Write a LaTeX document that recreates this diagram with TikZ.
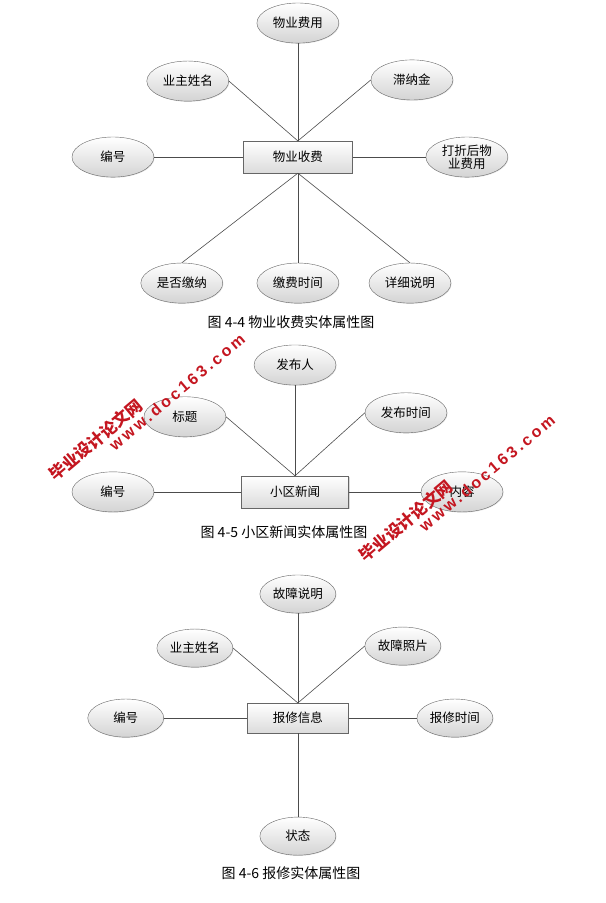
\documentclass[tikz,border=0pt]{standalone}
\usepackage{fontspec}
\setmainfont{Noto Sans CJK SC}
\newfontfamily\wwwfont[LetterSpace=18]{Liberation Sans}
\usetikzlibrary{positioning,shapes.geometric,shadows}

\definecolor{wmred}{RGB}{196,22,32}
\tikzset{
  attr/.style={ellipse, draw=black!60, top color=white, bottom color=black!17,
    minimum width=2.88cm, minimum height=1.41cm, inner sep=0pt, align=center,
    on grid, font=\fontsize{12.5}{13.5}\selectfont,
    drop shadow={opacity=0.2, shadow xshift=0.7pt, shadow yshift=-0.7pt}},
  smallattr/.style={attr, minimum width=2.67cm, minimum height=1.34cm},
  entity/.style={rectangle, draw=black!60, top color=white, bottom color=black!14,
    minimum width=3.83cm, minimum height=1.12cm, inner sep=0pt,
    font=\fontsize{12.5}{13.5}\selectfont,
    drop shadow={opacity=0.3, shadow xshift=1pt, shadow yshift=-1pt}},
  conn/.style={draw=black!70, line width=0.6pt},
  caption/.style={font=\fontsize{14}{15}\selectfont},
  wmzh/.style={text=wmred, rotate=40, font=\fontsize{16.5}{17}\selectfont\bfseries},
  wmen/.style={text=wmred, rotate=40, font=\fontsize{16}{17}\wwwfont\bfseries},
}

\begin{document}
\begin{tikzpicture}
  \useasboundingbox (0,0) rectangle (21.30,-31.74);

  % 物业收费
  \node[entity] (e1) at (10.47,-5.52) {物业收费};
  \node[attr, above=4.71cm of e1] (a1) {物业费用};
  \node[attr, above left=2.67cm and 3.87cm of e1] (a2) {业主姓名};
  \node[attr, above right=2.71cm and 4.01cm of e1] (a3) {滞纳金};
  \node[attr, left=6.50cm of e1] (a4) {编号};
  \node[attr, right=5.94cm of e1] (a5) {打折后物\\业费用};
  \node[attr, below left=4.43cm and 4.08cm of e1] (a6) {是否缴纳};
  \node[attr, below=4.43cm of e1] (a7) {缴费时间};
  \node[attr, below right=4.43cm and 3.94cm of e1] (a8) {详细说明};
  \node[caption] (t1) at (10.23,-11.32) {图 4-4 物业收费实体属性图};
  \draw[conn] (e1.north) -- (a1.south);
  \draw[conn] (e1.north) -- (a2.east);
  \draw[conn] (e1.north) -- (a3.west);
  \draw[conn] (e1.west) -- (a4.east);
  \draw[conn] (e1.east) -- (a5.west);
  \draw[conn] (e1.south) -- (a6.north);
  \draw[conn] (e1.south) -- (a7.north);
  \draw[conn] (e1.south) -- (a8.north);

  % 小区新闻
  \node[entity, minimum width=3.76cm] (e2) at (10.37,-17.29) {小区新闻};
  \node[attr, above=4.46cm of e2] (b1) {发布人};
  \node[attr, above left=2.64cm and 3.87cm of e2] (b2) {标题};
  \node[attr, above right=2.78cm and 3.90cm of e2] (b3) {发布时间};
  \node[attr, left=6.40cm of e2] (b4) {编号};
  \node[attr, right=5.87cm of e2] (b5) {内容};
  \node[caption] (t2) at (9.98,-18.70) {图 4-5 小区新闻实体属性图};
  \draw[conn] (e2.north) -- (b1.south);
  \draw[conn] (e2.north) -- (b2.east);
  \draw[conn] (e2.north) -- (b3.west);
  \draw[conn] (e2.west) -- (b4.east);
  \draw[conn] (e2.east) -- (b5.west);

  % 报修信息
  \node[entity, minimum width=3.55cm, minimum height=1.05cm] (e3) at (10.47,-25.24) {报修信息};
  \node[smallattr, above=4.36cm of e3] (c1) {故障说明};
  \node[smallattr, above left=2.46cm and 3.62cm of e3] (c2) {业主姓名};
  \node[smallattr, above right=2.53cm and 3.69cm of e3] (c3) {故障照片};
  \node[smallattr, left=6.05cm of e3] (c4) {编号};
  \node[smallattr, right=5.52cm of e3] (c5) {报修时间};
  \node[smallattr, below=4.15cm of e3] (c6) {状态};
  \node[caption] (t3) at (10.23,-30.69) {图 4-6 报修实体属性图};
  \draw[conn] (e3.north) -- (c1.south);
  \draw[conn] (e3.north) -- (c2.east);
  \draw[conn] (e3.north) -- (c3.west);
  \draw[conn] (e3.west) -- (c4.east);
  \draw[conn] (e3.east) -- (c5.west);
  \draw[conn] (e3.south) -- (c6.north);

  % watermarks
  \node[wmzh] (m1) at (3.37,-15.46) {毕业设计论文网};
  \node[wmen] (n1) at (6.22,-13.78) {www.doc163.com};
  \node[wmzh] (m2) at (14.27,-18.31) {毕业设计论文网};
  \node[wmen] (n2) at (17.12,-16.62) {www.doc163.com};
\end{tikzpicture}
\end{document}
